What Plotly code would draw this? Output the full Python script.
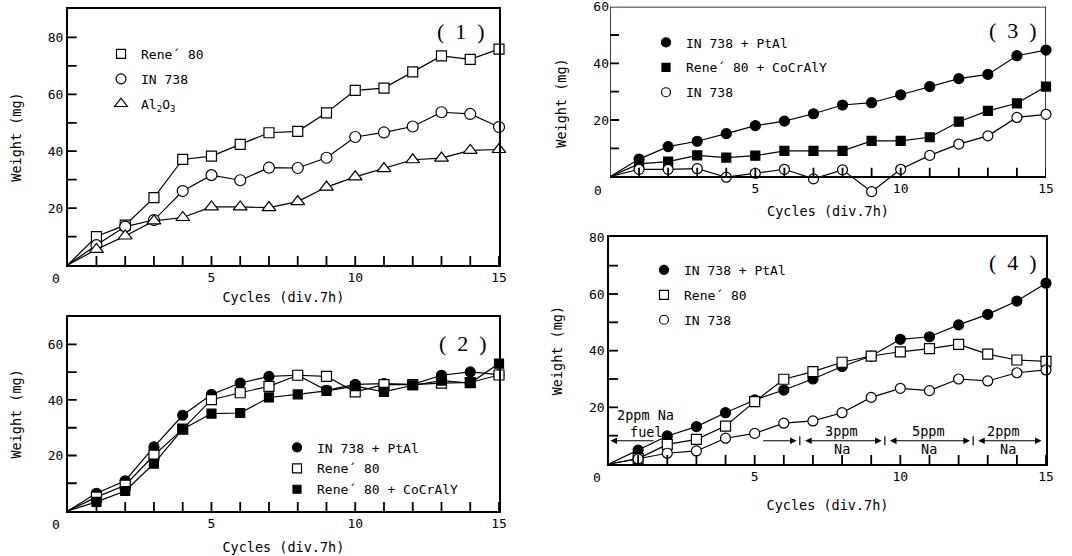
import plotly.graph_objects as go

# ---------------- data ----------------
CYCLES = list(range(0, 16))

P1_RENE80 = [0, 10, 14, 23.7, 37.1, 38.3, 42.4, 46.5, 47, 53.5, 61.4, 62.2, 67.9, 73.5, 72.3, 75.9]
P1_IN738 = [0, 7, 13.5, 15.8, 26, 31.6, 29.8, 34.2, 34.1, 37.7, 45, 46.6, 48.7, 53.7, 53.1, 48.5]
P1_AL2O3 = [0, 5.5, 10.2, 15.5, 16.7, 20.4, 20.4, 20.2, 22.3, 27.4, 31, 33.9, 37, 37.6, 40.3, 40.6]

P2_IN738_PTAL = [0, 6.4, 10.9, 23.1, 34.5, 42, 46.1, 48.5, 48.9, 43.5, 45.6, 45.9, 45.6, 48.9, 50.1, 49.1]
P2_RENE80 = [0, 5, 9.3, 20.1, 29.5, 40.1, 42.6, 44.9, 48.9, 48.5, 42.9, 45.5, 45.5, 46.1, 46.3, 49]
P2_RENE80_COCRALY = [0, 3.3, 7.2, 17.1, 29.5, 35.1, 35.3, 40.9, 42.0, 43.3, 45, 42.9, 45.3, 47, 46.1, 53.1]

P3_IN738_PTAL = [0, 6.2, 10.6, 12.5, 15.2, 18, 19.6, 22.2, 25.3, 26.1, 28.9, 31.8, 34.6, 36.1, 42.7, 44.7]
P3_RENE80_COCRALY = [0, 4.5, 5.3, 7.5, 6.7, 7.4, 9.1, 9.1, 9.1, 12.6, 12.6, 13.9, 19.4, 23.2, 25.9, 31.8]
P3_IN738 = [0, 2.6, 2.6, 2.8, -0.2, 1.2, 2.6, -0.8, 2.4, -5.3, 2.6, 7.5, 11.5, 14.4, 20.9, 22]

P4_IN738_PTAL = [0, 4.9, 9.9, 13.2, 18.1, 22.6, 26.1, 30, 34.4, 38.1, 44, 44.9, 49.1, 52.8, 57.5, 63.8]
P4_RENE80 = [0, 1.9, 6.9, 8.7, 13.4, 22, 29.9, 32.6, 35.9, 38.1, 39.6, 40.7, 42.2, 38.8, 36.7, 36.2]
P4_IN738 = [0, 1.8, 3.8, 4.6, 9.1, 10.8, 14.4, 15.2, 18.1, 23.5, 26.7, 25.9, 30, 29.3, 32.2, 33.2]

X_TICKS = list(range(1, 16))        # tick marks on the cycles axis
X_LABELS = [5, 10, 15]              # labelled cycles
Y_LABEL_STEP = 20                   # labelled weights
Y_TICK_STEP = 10                    # weight tick marks

MONO = "DejaVu Sans Mono"
W, H = 1072, 556

fig = go.Figure()

STYLE = {
    'open_square': dict(symbol='square', fill='white'),
    'open_circle': dict(symbol='circle', fill='white'),
    'open_triangle': dict(symbol='triangle-up', fill='white'),
    'filled_circle': dict(symbol='circle', fill='#000000'),
    'filled_square': dict(symbol='square', fill='#000000'),
}

# subplot boxes in pixels: (left, right, bottom, top) and y ranges
BOX = {'': (67.7, 499, 265, 9), '2': (67.7, 499, 511, 316.7),
       '3': (610, 1046, 199.3, 6.7), '4': (609, 1046, 464, 237.3)}
RANGES = {'': [0, 90], '2': [0, 70], '3': [-8, 60], '4': [0, 80]}
X_TITLE_STANDOFF = {'': 8, '2': 12, '3': 11, '4': 17}
TICK_PX = 9


def add_series(y, name, style, size, ax, legend):
    st = STYLE[style]
    marker = dict(symbol=st['symbol'], size=[0] + [size] * (len(CYCLES) - 1), color=st['fill'],
                  opacity=1, line=dict(color='#000000', width=1.2))
    fig.add_trace(go.Scatter(
        x=CYCLES, y=y, mode='lines+markers', name=name, showlegend=False,
        line=dict(color='#000000', width=1.2), marker=marker, cliponaxis=False,
        xaxis='x' + ax, yaxis='y' + ax, hoverinfo='x+y+name'))
    # marker-only legend entry
    fig.add_trace(go.Scatter(
        x=[None], y=[None], mode='markers', name=name, legend=legend,
        legendgroup=legend + name,
        marker=dict(symbol=st['symbol'], size=size - 1, color=st['fill'],
                    line=dict(color='#000000', width=1.2)),
        xaxis='x' + ax, yaxis='y' + ax))


RENE = 'Rene\u00b4 80'
add_series(P1_RENE80, RENE, 'open_square', 10, '', 'legend')
add_series(P1_IN738, 'IN 738', 'open_circle', 11, '', 'legend')
add_series(P1_AL2O3, 'Al<sub>2</sub>O<sub>3</sub>', 'open_triangle', 12, '', 'legend')

add_series(P2_IN738_PTAL, 'IN 738 + PtAl', 'filled_circle', 10, '2', 'legend2')
add_series(P2_RENE80, RENE, 'open_square', 10, '2', 'legend2')
add_series(P2_RENE80_COCRALY, RENE + ' + CoCrAlY', 'filled_square', 9, '2', 'legend2')

add_series(P3_IN738_PTAL, 'IN 738 + PtAl', 'filled_circle', 10, '3', 'legend3')
add_series(P3_RENE80_COCRALY, RENE + ' + CoCrAlY', 'filled_square', 9, '3', 'legend3')
add_series(P3_IN738, 'IN 738', 'open_circle', 10, '3', 'legend3')

add_series(P4_IN738_PTAL, 'IN 738 + PtAl', 'filled_circle', 10, '4', 'legend4')
add_series(P4_RENE80, RENE, 'open_square', 10, '4', 'legend4')
add_series(P4_IN738, 'IN 738', 'open_circle', 10, '4', 'legend4')

# inward tick marks, drawn as thin line traces
for ax, rng in RANGES.items():
    l, r, b, t = BOX[ax]
    ylen = TICK_PX * (rng[1] - rng[0]) / (b - t)
    xlen = TICK_PX * 15 / (r - l)
    tx, ty = [], []
    for v in X_TICKS:
        tx += [v, v, None]
        ty += [0, ylen, None]
    for v in range(Y_TICK_STEP, rng[1], Y_TICK_STEP):
        tx += [0, xlen, None]
        ty += [v, v, None]
    fig.add_trace(go.Scatter(x=tx, y=ty, mode='lines', line=dict(color='#000000', width=1.8, simplify=False),
                             showlegend=False, hoverinfo='skip', cliponaxis=False,
                             xaxis='x' + ax, yaxis='y' + ax))


def px_x(p):
    return p / W


def px_y(p):
    return 1 - p / H


LINE = dict(showline=True, linecolor='#000000', linewidth=1.5)
TICKFONT = dict(family=MONO, size=13, color='black')


def xaxis(ax):
    l, r, b, t = BOX[ax]
    d = dict(domain=[px_x(l), px_x(r)], range=[0, 15], showgrid=False, zeroline=False,
             tickmode='array', tickvals=X_LABELS, ticks='', ticklabeloverflow='allow',
             tickfont=TICKFONT,
             title=dict(text='Cycles (div.7h)', font=dict(family=MONO, size=13.5, color='black'),
                        standoff=X_TITLE_STANDOFF[ax]),
             anchor='y' + ax, fixedrange=True, mirror=True, automargin=False, **LINE)
    if ax == '3':
        lo, hi = RANGES[ax]
        d['anchor'] = 'free'
        d['position'] = px_y(b - (0 - lo) / (hi - lo) * (b - t))
        d['mirror'] = False
    return d


def yaxis(ax):
    l, r, b, t = BOX[ax]
    rng = RANGES[ax]
    d = dict(domain=[px_y(b), px_y(t)], range=rng, showgrid=False, zeroline=False,
             tickmode='array', tickvals=list(range(Y_LABEL_STEP, rng[1] + 1, Y_LABEL_STEP)), ticks='',
             ticklabeloverflow='allow', tickfont=TICKFONT,
             title=dict(text='Weight (mg)', font=dict(family=MONO, size=13.5, color='black'),
                        standoff=23),
             anchor='x' + ax, fixedrange=True, mirror=True, automargin=False, **LINE)
    if ax == '3':
        d['showline'] = False
        d['mirror'] = False
    return d


layout = dict(
    width=W, height=H, margin=dict(l=0, r=0, t=0, b=0, pad=0, autoexpand=False),
    paper_bgcolor='white', plot_bgcolor='rgba(0,0,0,0)',
)
for ax in BOX:
    layout['xaxis' + ax] = xaxis(ax)
    layout['yaxis' + ax] = yaxis(ax)

LEG = dict(xanchor='left', yanchor='top', bgcolor='rgba(0,0,0,0)', borderwidth=0,
           font=dict(family=MONO, size=13, color='black'), tracegroupgap=5, itemclick=False,
           itemdoubleclick=False)
layout['legend'] = dict(LEG, x=px_x(101), y=px_y(39))
layout['legend2'] = dict(LEG, x=px_x(277), y=px_y(432.5), tracegroupgap=1)
layout['legend3'] = dict(LEG, x=px_x(646), y=px_y(27.5))
layout['legend4'] = dict(LEG, x=px_x(644), y=px_y(255))
fig.update_layout(**layout)

shapes = []
# frame of panel 3 (its plot area extends below zero)
shapes.append(dict(type='rect', xref='x3', yref='y3', x0=0, x1=15, y0=0, y1=60,
                   line=dict(color='#000000', width=1.5), layer='below'))
# concentration boundaries in panel 4
for xv in [6.55, 9.47, 12.5]:
    shapes.append(dict(type='line', xref='x4', yref='y4', x0=xv, x1=xv, y0=6.6, y1=9.8,
                       line=dict(color='#000000', width=1.2)))
fig.update_layout(shapes=shapes)

ann = []
# corner zeros
for ax in BOX:
    ann.append(dict(x=0, y=0, xref='x' + ax, yref='y' + ax, text='0', showarrow=False,
                    xanchor='right', yanchor='top', xshift=-6, yshift=-4,
                    font=dict(family=MONO, size=13, color='black')))
# panel labels
for txt, cx, cy in [('( 1 )', 461, 32), ('( 2 )', 463, 343.3), ('( 3 )', 1013, 30), ('( 4 )', 1013, 262.7)]:
    ann.append(dict(x=px_x(cx), y=px_y(cy), xref='paper', yref='paper', text=txt.replace(' ', '\u2002'),
                    showarrow=False, xanchor='center', yanchor='middle',
                    font=dict(family='Liberation Serif', size=22, color='black')))

# arrows in panel 4
ARW = dict(xref='x4', yref='y4', axref='x4', ayref='y4', text='', showarrow=True,
           arrowhead=2, arrowsize=1.2, arrowwidth=1.1, arrowcolor='#000000')
ann.append(dict(ARW, x=0.05, y=8.2, ax=1.58, ay=8.2))
ann.append(dict(ARW, x=6.44, y=8.2, ax=5.24, ay=8.2))
for a, b in [(6.68, 9.36), (9.59, 12.39), (12.62, 14.85)]:
    ann.append(dict(ARW, x=b, y=8.2, ax=a, ay=8.2, arrowside='end+start'))

TXT = dict(xref='x4', yref='y4', showarrow=False, font=dict(family=MONO, size=13.5, color='black'))
for txt, xv, yv in [('2ppm Na', 1.24, 17.3), ('fuel', 1.29, 11.4), ('3ppm', 7.99, 11.6), ('Na', 7.99, 5.2),
                    ('5ppm', 10.96, 11.8), ('Na', 11.0, 5.2), ('2ppm', 13.54, 11.8), ('Na', 13.71, 5.2)]:
    ann.append(dict(TXT, x=xv, y=yv, text=txt))
fig.update_layout(annotations=ann)

fig.write_html("out.html")
